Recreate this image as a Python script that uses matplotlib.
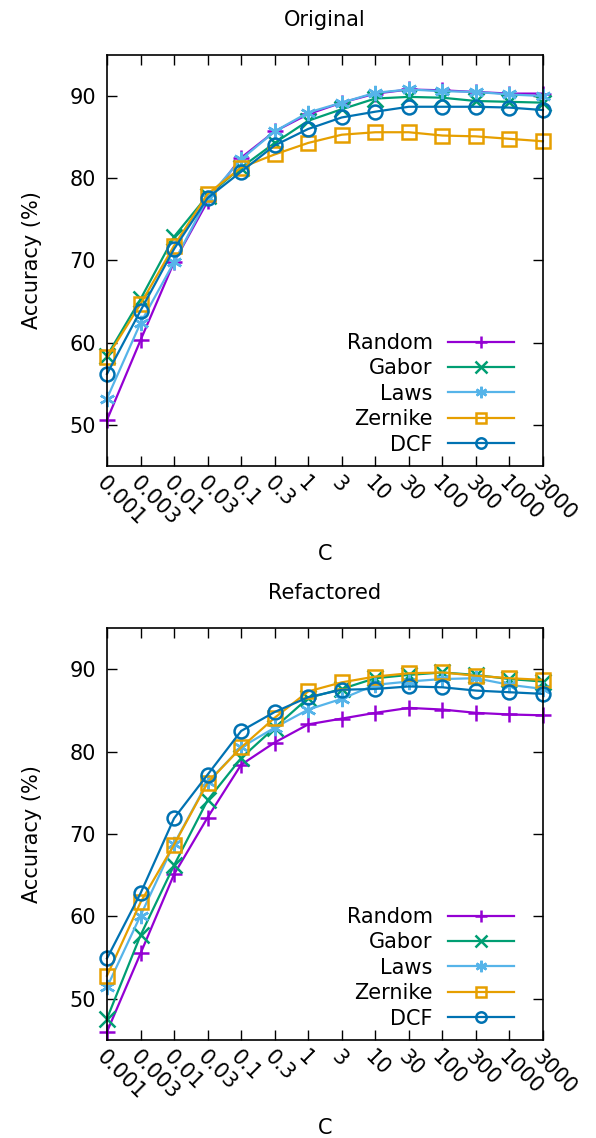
import matplotlib

matplotlib.use("Agg")
import matplotlib.pyplot as plt
import numpy as np


C_LABELS = ["0.001", "0.003", "0.01", "0.03", "0.1", "0.3", "1", "3",
            "10", "30", "100", "300", "1000", "3000"]

# Original
ORIG_RANDOM = [50.6, 60.3, 69.8, 77.2, 82.5, 85.7, 87.8, 89.2, 90.3, 90.8, 90.7, 90.5, 90.3, 90.3]
ORIG_GABOR = [58.4, 65.3, 72.9, 77.9, 81.3, 84.3, 87.0, 88.4, 89.7, 89.9, 89.8, 89.4, 89.3, 89.2]
ORIG_LAWS = [53.2, 62.4, 69.8, 77.6, 82.3, 85.7, 88.0, 89.2, 90.4, 90.8, 90.6, 90.5, 90.2, 90.0]
ORIG_ZERNIKE = [58.2, 64.7, 71.8, 78.1, 81.3, 82.9, 84.3, 85.3, 85.6, 85.6, 85.2, 85.1, 84.8, 84.5]
ORIG_DCF = [56.2, 63.9, 71.4, 77.6, 80.8, 84.0, 86.0, 87.4, 88.1, 88.7, 88.7, 88.7, 88.6, 88.3]

# Refactored
REF_RANDOM = [46.0, 55.5, 65.1, 72.0, 78.4, 81.1, 83.3, 84.0, 84.7, 85.3, 85.1, 84.7, 84.5, 84.4]
REF_GABOR = [47.6, 57.7, 66.2, 74.1, 79.2, 82.9, 86.5, 87.6, 88.9, 89.3, 89.6, 89.3, 88.8, 88.5]
REF_LAWS = [51.4, 60.1, 68.8, 76.3, 80.5, 82.9, 85.1, 86.4, 88.1, 88.5, 88.8, 88.9, 88.1, 87.6]
REF_ZERNIKE = [52.8, 61.7, 68.7, 76.2, 80.5, 84.1, 87.3, 88.4, 89.1, 89.5, 89.6, 89.2, 88.9, 88.7]
REF_DCF = [54.9, 62.8, 71.9, 77.2, 82.5, 84.8, 86.6, 87.5, 87.6, 87.9, 87.8, 87.4, 87.2, 87.0]

STYLES = [
    ("Random", "#9400d3", "+"),
    ("Gabor", "#009e73", "x"),
    ("Laws", "#56b4e9", (6, 2, 0)),
    ("Zernike", "#e69f00", "s"),
    ("DCF", "#0072b2", "o"),
]

FS = 15


def draw_panel(ax, title, series):
    x = np.arange(len(C_LABELS))
    for (label, color, marker), values in zip(STYLES, series):
        open_marker = marker in ("s", "o")
        ax.plot(
            x, values, color=color, lw=1.6, label=label, clip_on=False,
            marker=marker, markersize=10 if open_marker else 11,
            markerfacecolor="none" if open_marker else color,
            markeredgewidth=1.8,
        )
    ax.set_xlim(0, len(C_LABELS) - 1)
    ax.set_ylim(45, 95)
    ax.set_yticks([50, 60, 70, 80, 90])
    ax.set_xticks(x)
    ax.set_xticklabels(C_LABELS, rotation=-45, ha="left", va="top",
                       rotation_mode="anchor")
    ax.tick_params(direction="in", length=7, width=1.0, top=True, right=True,
                   labelsize=FS)
    ax.tick_params(axis="x", pad=5)
    ax.tick_params(axis="y", pad=8)
    for spine in ax.spines.values():
        spine.set_linewidth(1.2)
    ax.set_title(title, fontsize=FS, pad=21)
    ax.set_xlabel("C", fontsize=FS)
    ax.xaxis.set_label_coords(0.5, -0.19)
    ax.set_ylabel("Accuracy (%)", fontsize=FS)
    ax.yaxis.set_label_coords(-0.15, 0.5)
    ax.legend(loc="lower right", bbox_to_anchor=(0.961, 0.0), frameon=False,
              markerfirst=False, handlelength=3.2, fontsize=FS,
              labelspacing=0.26, borderaxespad=0.15, handletextpad=0.72,
              markerscale=0.75)


def main():
    fig = plt.figure(figsize=(5.96, 11.38), dpi=100)
    ax_top = fig.add_axes([0.1795, 0.5905, 0.7315, 0.3612])
    ax_bot = fig.add_axes([0.1795, 0.0861, 0.7315, 0.3621])
    draw_panel(ax_top, "Original",
               [ORIG_RANDOM, ORIG_GABOR, ORIG_LAWS, ORIG_ZERNIKE, ORIG_DCF])
    draw_panel(ax_bot, "Refactored",
               [REF_RANDOM, REF_GABOR, REF_LAWS, REF_ZERNIKE, REF_DCF])
    fig.savefig("out.png", dpi=100)
    plt.close(fig)


if __name__ == "__main__":
    main()
